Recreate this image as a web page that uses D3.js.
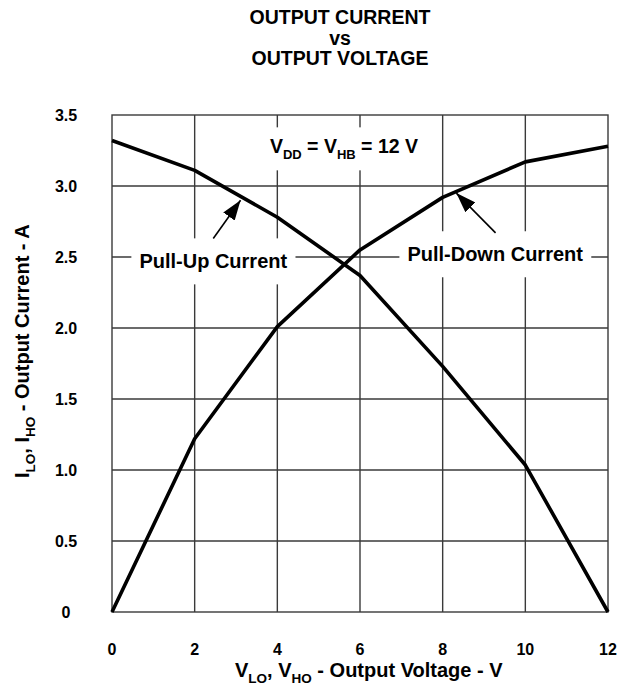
<!DOCTYPE html>
<html>
<head>
<meta charset="utf-8">
<script src="https://cdn.jsdelivr.net/npm/d3@7"></script>
<style>
  body { margin: 0; background: #fff; }
  text { font-family: "Liberation Sans", Arial, Helvetica, sans-serif; font-weight: bold; fill: #000; }
</style>
</head>
<body>
<svg id="chart"></svg>
<script>
// values
var voltage = [0, 2, 4, 6, 8, 10, 12];
var pullUpCurrent = [3.32, 3.11, 2.78, 2.37, 1.73, 1.035, 0];
var pullDownCurrent = [0, 1.22, 2.01, 2.55, 2.92, 3.17, 3.28];
var xTicks = [0, 2, 4, 6, 8, 10, 12];
var yTicks = [0, 0.5, 1, 1.5, 2, 2.5, 3, 3.5];
var yTickLabels = ["0", "0.5", "1.0", "1.5", "2.0", "2.5", "3.0", "3.5"];
var titleLines = ["OUTPUT CURRENT", "vs", "OUTPUT VOLTAGE"];

document.addEventListener("DOMContentLoaded", function() {
  drawChart();
});

function richText(sel, parts, subSize, shift) {
  // parts: [text, isSubscript]
  parts.forEach(function(p) {
    var t = sel.append("tspan").text(p[0]);
    if (p[1]) t.attr("font-size", subSize).attr("dy", shift);
    else if (sel.node().childNodes.length > 1) {
      var prev = parts[parts.indexOf(p) - 1];
      if (prev && prev[1]) t.attr("dy", -shift);
    }
  });
}

function drawChart() {
  var svgWidth = 631, svgHeight = 696;
  var margin = { top: 115, right: 23, bottom: 84, left: 112 };
  var width = svgWidth - margin.left - margin.right;
  var height = svgHeight - margin.top - margin.bottom;

  var svg = d3.select("#chart")
    .attr("width", svgWidth)
    .attr("height", svgHeight);

  var x = d3.scaleLinear().domain([0, 12]).range([margin.left, margin.left + width]);
  var y = d3.scaleLinear().domain([0, 3.5]).range([margin.top + height, margin.top]);

  //title
  svg.append("g").selectAll("text")
    .data(titleLines)
    .enter()
    .append("text")
    .attr("x", 340)
    .attr("y", (d, i) => 24 + i * 20.5)
    .attr("text-anchor", "middle")
    .attr("font-size", 19.5)
    .text(d => d);

  //grid
  var grid = svg.append("g")
    .attr("stroke", "#3a3a3a")
    .attr("stroke-width", 1.4);

  grid.selectAll(".vx")
    .data(xTicks.slice(1, -1))
    .enter()
    .append("line")
    .attr("x1", d => x(d)).attr("x2", d => x(d))
    .attr("y1", y(0)).attr("y2", y(3.5));

  grid.selectAll(".hy")
    .data(yTicks.slice(1, -1))
    .enter()
    .append("line")
    .attr("x1", x(0)).attr("x2", x(12))
    .attr("y1", d => y(d)).attr("y2", d => y(d));

  grid.append("rect")
    .attr("x", x(0)).attr("y", y(3.5))
    .attr("width", x(12) - x(0)).attr("height", y(0) - y(3.5))
    .attr("fill", "none");

  //tick labels
  svg.append("g").selectAll("text")
    .data(xTicks)
    .enter()
    .append("text")
    .attr("x", d => x(d))
    .attr("y", 655)
    .attr("text-anchor", "middle")
    .attr("font-size", 16)
    .text(d => d);

  svg.append("g").selectAll("text")
    .data(yTicks)
    .enter()
    .append("text")
    .attr("x", 66)
    .attr("y", d => y(d))
    .attr("dy", "0.36em")
    .attr("text-anchor", "middle")
    .attr("font-size", 16)
    .text((d, i) => yTickLabels[i]);

  //axis titles
  var xTitle = svg.append("text")
    .attr("x", 235)
    .attr("y", 677)
    .attr("font-size", 20);
  richText(xTitle, [["V", 0], ["LO", 1], [", V", 0], ["HO", 1], [" - Output Voltage - V", 0]], 13.5, 6);

  var yTitle = svg.append("text")
    .attr("transform", "translate(29,478) rotate(-90)")
    .attr("font-size", 20);
  richText(yTitle, [["I", 0], ["LO", 1], [", I", 0], ["HO", 1], [" - Output Current - A", 0]], 13.5, 6);

  //labels with white boxes that break the grid
  var labels = [
    { text: [["Pull-Up Current", 0]], cx: 2.45, base: 2.42 },
    { text: [["Pull-Down Current", 0]], cx: 9.27, base: 2.47 }
  ];
  labels.forEach(function(l) {
    var g = svg.append("g");
    var box = g.append("rect").attr("fill", "#fff");
    var t = g.append("text")
      .attr("x", x(l.cx))
      .attr("y", y(l.base))
      .attr("text-anchor", "middle")
      .attr("font-size", 20);
    richText(t, l.text, 13.5, 6);
    var bb = t.node().getBBox();
    box.attr("x", bb.x - 8).attr("y", bb.y - 12)
      .attr("width", bb.width + 16).attr("height", bb.height + 24);
  });

  var vdd = svg.append("g");
  var vddBox = vdd.append("rect").attr("fill", "#fff");
  var vddText = vdd.append("text")
    .attr("x", x(3.82))
    .attr("y", y(3.23))
    .attr("font-size", 19.5);
  richText(vddText, [["V", 0], ["DD", 1], [" = V", 0], ["HB", 1], [" = 12 V", 0]], 13, 6);
  var vb = vddText.node().getBBox();
  vddBox.attr("x", vb.x - 8).attr("y", vb.y - 8)
    .attr("width", vb.width + 16).attr("height", vb.height + 16);

  //curves
  var line = d3.line()
    .x(d => x(d[0]))
    .y(d => y(d[1]));

  svg.append("path")
    .datum(voltage.map((v, i) => [v, pullUpCurrent[i]]))
    .attr("fill", "none")
    .attr("stroke", "#000")
    .attr("stroke-width", 3.6)
    .attr("stroke-linejoin", "round")
    .attr("d", line);

  svg.append("path")
    .datum(voltage.map((v, i) => [v, pullDownCurrent[i]]))
    .attr("fill", "none")
    .attr("stroke", "#000")
    .attr("stroke-width", 3.6)
    .attr("stroke-linejoin", "round")
    .attr("d", line);

  //arrows
  svg.append("defs").append("marker")
    .attr("id", "head")
    .attr("markerUnits", "userSpaceOnUse")
    .attr("viewBox", "0 0 20 14")
    .attr("refX", 20).attr("refY", 7)
    .attr("markerWidth", 20).attr("markerHeight", 14)
    .attr("orient", "auto")
    .append("path")
    .attr("d", "M0,0 L20,7 L0,14 Z")
    .attr("fill", "#000");

  var arrows = [
    { from: [2.45, 2.63], to: [3.11, 2.90] },
    { from: [9.28, 2.67], to: [8.33, 2.95] }
  ];
  svg.append("g").selectAll("line")
    .data(arrows)
    .enter()
    .append("line")
    .attr("x1", d => x(d.from[0])).attr("y1", d => y(d.from[1]))
    .attr("x2", d => x(d.to[0])).attr("y2", d => y(d.to[1]))
    .attr("stroke", "#000")
    .attr("stroke-width", 1.6)
    .attr("marker-end", "url(#head)");
}
</script>
</body>
</html>
